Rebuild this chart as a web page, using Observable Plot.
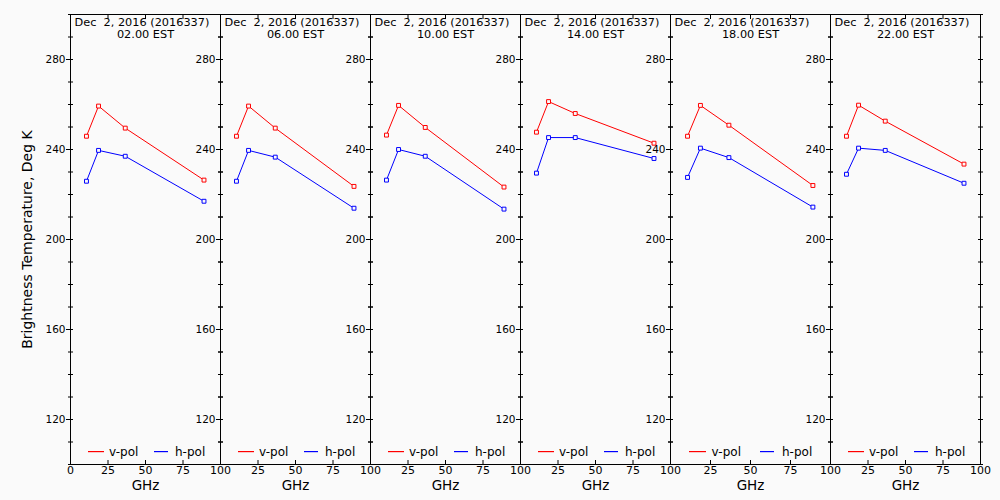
<!DOCTYPE html>
<html><head><meta charset="utf-8">
<script src="https://cdn.jsdelivr.net/npm/d3@7"></script>
<script src="https://cdn.jsdelivr.net/npm/@observablehq/plot@0.6"></script>
<style>
html,body{margin:0;padding:0;background:#fafafa;}
#chart{position:relative;width:1000px;height:500px;overflow:hidden;font-family:"DejaVu Sans",sans-serif;}
#chart svg{position:absolute;left:0;top:0;}
#chart svg text{white-space:pre;}
</style>
</head><body><div id="chart"></div>
<script>
// ---- data ----
const freqs = [10.65, 18.7, 36.5, 89.0];
const dateLabel = "Dec  2, 2016 (2016337)";
const times = ["02.00", "06.00", "10.00", "14.00", "18.00", "22.00"];
const vpol = [
  [245.9, 259.3, 249.5, 226.4],
  [245.9, 259.3, 249.5, 223.6],
  [246.4, 259.6, 249.8, 223.3],
  [247.7, 261.3, 256.0, 242.8],
  [245.9, 259.6, 250.8, 224.0],
  [245.9, 259.7, 252.6, 233.5]
];
const hpol = [
  [225.9, 239.6, 237.0, 217.0],
  [225.9, 239.6, 236.6, 213.9],
  [226.4, 240.0, 237.0, 213.5],
  [229.5, 245.3, 245.3, 236.0],
  [227.6, 240.6, 236.4, 214.4],
  [229.0, 240.6, 239.6, 225.0]
];
const series = ["v-pol", "h-pol"];
const seriesColors = ["#ff0000", "#0000ff"];
const yMajorTicks = [120, 160, 200, 240, 280];
const yLabel = "Brightness Temperature, Deg K";
const xLabel = "GHz";

// ---- layout ----
const edges = [70, 220, 370, 520, 670, 830, 980];
const W = 1000, H = 500, mTop = 14, mBottom = 36;
const minorY = d3.range(100, 301, 10);
const chart = document.getElementById("chart");
const blank = () => "";

times.forEach((t, i) => {
  const L = edges[i], R = edges[i + 1];
  const data = [];
  freqs.forEach((f, j) => {
    data.push({f, tb: vpol[i][j], pol: series[0]});
    data.push({f, tb: hpol[i][j], pol: series[1]});
  });
  const svg = Plot.plot({
    width: W, height: H,
    marginLeft: L, marginRight: W - R, marginTop: mTop, marginBottom: mBottom,
    style: {background: "transparent", fontFamily: "DejaVu Sans", fontSize: "10px", color: "#000", overflow: "visible"},
    x: {domain: [0, 100]},
    y: {domain: [100, 300]},
    color: {domain: series.slice(), range: seriesColors.slice()},
    marks: [
      Plot.axisY({anchor: "left", ticks: minorY, tickSize: -3, tickFormat: blank, label: null}),
      Plot.axisY({anchor: "left", ticks: minorY, tickSize: 2, tickFormat: blank, label: null}),
      Plot.axisY({anchor: "left", ticks: yMajorTicks, tickSize: 4, tickPadding: 1, label: null, fontSize: 10.5}),
      Plot.axisY({anchor: "right", ticks: minorY, tickSize: -3, tickFormat: blank, label: null}),
      Plot.axisY({anchor: "right", ticks: minorY, tickSize: 2, tickFormat: blank, label: null}),
      Plot.axisX({anchor: "bottom", ticks: [25, 50, 75], tickSize: -4, tickFormat: blank, label: null}),
      Plot.axisX({anchor: "top", ticks: [25, 50, 75], tickSize: -4, tickFormat: blank, label: null}),
      Plot.axisX({anchor: "bottom", ticks: i === 0 ? [0, 25, 50, 75, 100] : [25, 50, 75, 100], tickSize: 0, tickPadding: 2, label: null, fontSize: 11}),
      Plot.frame({stroke: "#000"}),
      Plot.line(data, {x: "f", y: "tb", stroke: "pol", z: "pol", strokeWidth: 1}),
      Plot.dot(data, {x: "f", y: "tb", stroke: "pol", symbol: "square", r: 2.2, fill: "#fafafa", strokeWidth: 1}),
      Plot.text([dateLabel], {text: d => d, frameAnchor: "top-left", dx: 4, dy: 3.5, lineAnchor: "top", fontSize: 11.3, fill: "#000"}),
      Plot.text([t + " EST"], {text: d => d, frameAnchor: "top", dy: 15, lineAnchor: "top", fontSize: 11.3, fill: "#000"}),
      Plot.text([xLabel], {text: d => d, frameAnchor: "bottom", dy: 21, lineAnchor: "middle", fontSize: 13.5, fill: "#000"}),
      i === 0 ? Plot.text([yLabel], {text: d => d, frameAnchor: "left", dx: -43, rotate: -90, textAnchor: "middle", fontSize: 14, fill: "#000"}) : null
    ]
  });
  chart.appendChild(svg);
});

// ---- legends (one per panel) ----
const leg = d3.select(chart).append("svg")
  .attr("width", W).attr("height", H)
  .style("position", "absolute").style("left", "0px").style("top", "0px");
const legY = 451;
const legItems = [
  {label: series[0], color: "rgb(255,0,0)", x0: 0.12, x1: 0.225, tx: 0.26},
  {label: series[1], color: "rgb(0,0,255)", x0: 0.56, x1: 0.65, tx: 0.70}
];
times.forEach((t, i) => {
  const L = edges[i], w = edges[i + 1] - L;
  legItems.forEach(it => {
    const x0 = Math.round(L + it.x0 * w), x1 = Math.round(L + it.x1 * w);
    leg.append("rect")
      .attr("x", x0).attr("y", legY).attr("width", x1 - x0).attr("height", 1.2)
      .style("fill", it.color).style("stroke", "none");
    leg.append("text")
      .attr("x", L + it.tx * w).attr("y", legY + 0.5)
      .attr("dy", "0.35em")
      .attr("font-family", "DejaVu Sans").attr("font-size", 12)
      .style("fill", "#000")
      .text(it.label);
  });
});
</script>
</body></html>
